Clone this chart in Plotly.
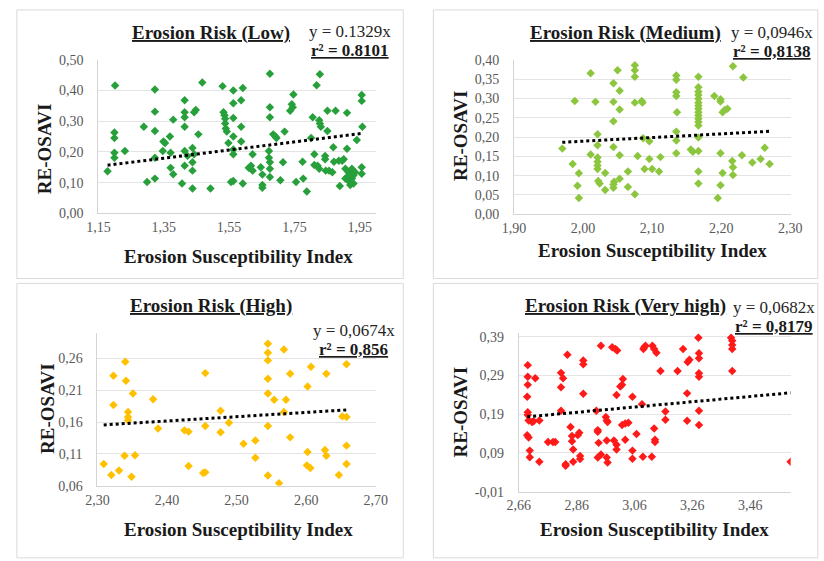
import plotly.graph_objects as go

W, H = 824, 561

# ---------------- data ----------------
low_x = [1.178, 1.201, 1.199, 1.199, 1.199, 1.199, 1.231, 1.289, 1.299, 1.323, 1.323, 1.323, 1.323, 1.323,
         1.347, 1.354, 1.349, 1.369, 1.379, 1.371, 1.371, 1.379, 1.406, 1.414, 1.414, 1.414, 1.414, 1.414,
         1.414, 1.423, 1.438, 1.443, 1.448, 1.438, 1.443, 1.438, 1.438, 1.456, 1.468, 1.493, 1.530, 1.533,
         1.536, 1.538, 1.538, 1.540, 1.543, 1.548, 1.563, 1.563, 1.563, 1.563, 1.563, 1.563, 1.556, 1.563,
         1.587, 1.587, 1.587, 1.592, 1.592, 1.622, 1.617, 1.622, 1.610, 1.647, 1.652, 1.652, 1.652, 1.675,
         1.675, 1.675, 1.672, 1.672, 1.675, 1.675, 1.675, 1.685, 1.692, 1.695, 1.707, 1.715, 1.720, 1.737,
         1.742, 1.747, 1.745, 1.755, 1.775, 1.777, 1.788, 1.811, 1.801, 1.818, 1.828, 1.806, 1.826, 1.828,
         1.831, 1.811, 1.821, 1.826, 1.844, 1.844, 1.851, 1.851, 1.846, 1.856, 1.869, 1.866, 1.871, 1.876,
         1.886, 1.896, 1.901, 1.889, 1.911, 1.911, 1.906, 1.911, 1.916, 1.921, 1.916, 1.926, 1.931, 1.936,
         1.921, 1.926, 1.906, 1.931, 1.941, 1.956, 1.956, 1.958, 1.956, 1.956]
low_y = [0.137, 0.416, 0.263, 0.245, 0.197, 0.181, 0.203, 0.282, 0.102, 0.403, 0.331, 0.268, 0.181, 0.113,
         0.203, 0.229, 0.234, 0.250, 0.305, 0.197, 0.148, 0.127, 0.097, 0.368, 0.329, 0.313, 0.282, 0.203,
         0.155, 0.187, 0.081, 0.329, 0.336, 0.213, 0.192, 0.166, 0.139, 0.257, 0.426, 0.081, 0.414, 0.329,
         0.319, 0.308, 0.292, 0.276, 0.266, 0.229, 0.400, 0.358, 0.310, 0.250, 0.208, 0.192, 0.102, 0.105,
         0.368, 0.282, 0.234, 0.408, 0.097, 0.192, 0.155, 0.139, 0.148, 0.150, 0.126, 0.092, 0.083, 0.454,
         0.345, 0.313, 0.203, 0.181, 0.166, 0.145, 0.118, 0.257, 0.250, 0.245, 0.108, 0.166, 0.266, 0.334,
         0.355, 0.387, 0.345, 0.102, 0.168, 0.113, 0.071, 0.192, 0.245, 0.417, 0.453, 0.313, 0.303, 0.292,
         0.282, 0.157, 0.155, 0.145, 0.187, 0.176, 0.334, 0.268, 0.139, 0.139, 0.215, 0.134, 0.168, 0.334,
         0.171, 0.171, 0.176, 0.089, 0.327, 0.210, 0.145, 0.118, 0.105, 0.129, 0.134, 0.113, 0.097, 0.134,
         0.092, 0.145, 0.113, 0.124, 0.239, 0.385, 0.366, 0.282, 0.150, 0.129]

med_x = [1.970, 1.985, 1.988, 1.994, 1.992, 1.994, 2.011, 2.011, 2.018, 2.021, 2.021, 2.021, 2.021, 2.021,
         2.021, 2.022, 2.024, 2.032, 2.032, 2.044, 2.044, 2.044, 2.044, 2.045, 2.044, 2.044, 2.050, 2.053,
         2.053, 2.053, 2.053, 2.065, 2.065, 2.075, 2.075, 2.075, 2.075, 2.079, 2.075, 2.085, 2.086, 2.087,
         2.096, 2.096, 2.089, 2.100, 2.110, 2.112, 2.135, 2.135, 2.135, 2.135, 2.136, 2.135, 2.135, 2.135,
         2.156, 2.159, 2.167, 2.167, 2.167, 2.167, 2.167, 2.167, 2.167, 2.167, 2.167, 2.167, 2.167, 2.167,
         2.167, 2.167, 2.167, 2.167, 2.167, 2.190, 2.199, 2.199, 2.202, 2.205, 2.209, 2.199, 2.202, 2.199,
         2.195, 2.217, 2.216, 2.217, 2.217, 2.230, 2.232, 2.245, 2.257, 2.263, 2.270]
med_y = [0.170, 0.130, 0.293, 0.106, 0.074, 0.042, 0.365, 0.155, 0.291, 0.207, 0.179, 0.147, 0.136, 0.126,
         0.117, 0.086, 0.080, 0.063, 0.107, 0.339, 0.291, 0.241, 0.174, 0.084, 0.069, 0.077, 0.373, 0.320,
         0.271, 0.153, 0.092, 0.111, 0.071, 0.386, 0.373, 0.356, 0.289, 0.151, 0.052, 0.293, 0.289, 0.197,
         0.189, 0.143, 0.117, 0.117, 0.111, 0.148, 0.359, 0.348, 0.316, 0.306, 0.264, 0.214, 0.191, 0.158,
         0.168, 0.162, 0.356, 0.329, 0.317, 0.309, 0.299, 0.289, 0.281, 0.273, 0.264, 0.256, 0.247, 0.239,
         0.230, 0.199, 0.164, 0.111, 0.080, 0.306, 0.298, 0.292, 0.264, 0.270, 0.273, 0.158, 0.107, 0.075,
         0.042, 0.383, 0.138, 0.122, 0.102, 0.153, 0.354, 0.134, 0.143, 0.172, 0.130]

high_x = [2.309, 2.320, 2.323, 2.323, 2.331, 2.339, 2.340, 2.341, 2.344, 2.344, 2.344, 2.349, 2.351, 2.354,
          2.380, 2.387, 2.425, 2.431, 2.431, 2.452, 2.455, 2.455, 2.455, 2.477, 2.477, 2.489, 2.510, 2.527,
          2.527, 2.545, 2.545, 2.545, 2.545, 2.545, 2.545, 2.545, 2.554, 2.561, 2.568, 2.568, 2.571, 2.577,
          2.577, 2.602, 2.602, 2.601, 2.606, 2.607, 2.629, 2.627, 2.629, 2.647, 2.652, 2.658, 2.658, 2.658,
          2.658]
high_y = [0.094, 0.077, 0.233, 0.187, 0.084, 0.107, 0.255, 0.225, 0.176, 0.168, 0.163, 0.074, 0.205, 0.108,
          0.196, 0.150, 0.147, 0.145, 0.091, 0.080, 0.081, 0.237, 0.154, 0.178, 0.144, 0.159, 0.126, 0.131,
          0.104, 0.283, 0.269, 0.257, 0.228, 0.205, 0.154, 0.076, 0.195, 0.064, 0.274, 0.176, 0.195, 0.236,
          0.136, 0.216, 0.113, 0.092, 0.088, 0.247, 0.236, 0.116, 0.107, 0.077, 0.169, 0.168, 0.251, 0.123,
          0.094]

vhigh_x = [2.691, 2.691, 2.691, 2.689, 2.691, 2.691, 2.694, 2.689, 2.694, 2.698, 2.698, 2.706, 2.717, 2.711,
           2.731, 2.731, 2.761, 2.778, 2.786, 2.806, 2.813, 2.806, 2.806, 2.822, 2.822, 2.828, 2.839, 2.844,
           2.844, 2.848, 2.848, 2.864, 2.869, 2.872, 2.872, 2.883, 2.883, 2.883, 2.928, 2.933, 2.933, 2.936,
           2.933, 2.944, 2.944, 2.961, 2.964, 2.967, 2.964, 2.964, 2.967, 2.983, 2.994, 3.000, 2.989, 2.998,
           2.998, 2.998, 3.011, 3.017, 3.020, 3.017, 3.028, 3.039, 3.028, 3.053, 3.053, 3.053, 3.067, 3.086,
           3.091, 3.098, 3.094, 3.089, 3.122, 3.128, 3.136, 3.120, 3.128, 3.131, 3.131, 3.150, 3.167, 3.167,
           3.209, 3.228, 3.242, 3.242, 3.244, 3.250, 3.281, 3.283, 3.283, 3.283, 3.283, 3.283, 3.283, 3.394,
           3.398, 3.398, 3.398, 3.398, 3.600]
vhigh_y = [0.317, 0.287, 0.266, 0.235, 0.195, 0.188, 0.174, 0.136, 0.130, 0.096, 0.079, 0.170, 0.283, 0.172,
           0.174, 0.067, 0.118, 0.118, 0.118, 0.297, 0.283, 0.260, 0.199, 0.061, 0.057, 0.344, 0.157, 0.134,
           0.120, 0.099, 0.067, 0.136, 0.142, 0.082, 0.074, 0.329, 0.319, 0.243, 0.199, 0.149, 0.145, 0.116,
           0.078, 0.367, 0.086, 0.183, 0.174, 0.170, 0.122, 0.078, 0.065, 0.363, 0.359, 0.355, 0.122, 0.111,
           0.099, 0.240, 0.262, 0.266, 0.281, 0.162, 0.166, 0.168, 0.124, 0.235, 0.096, 0.075, 0.139, 0.216,
           0.359, 0.367, 0.363, 0.080, 0.367, 0.359, 0.349, 0.080, 0.153, 0.124, 0.118, 0.302, 0.197, 0.176,
           0.302, 0.359, 0.244, 0.173, 0.325, 0.331, 0.388, 0.348, 0.335, 0.296, 0.287, 0.199, 0.162, 0.388,
           0.380, 0.369, 0.359, 0.302, 0.067]

titles = ["Erosion Risk (Low)", "Erosion Risk (Medium)", "Erosion Risk (High)", "Erosion Risk (Very high)"]
slopes = [0.1329, 0.0946, 0.0674, 0.0682]
eq_texts = ["y = 0.1329x", "y = 0,0946x", "y = 0,0674x", "y = 0,0682x"]
r2_texts = ["r² = 0.8101", "r² = 0,8138", "r² = 0,856", "r² = 0,8179"]

low_xticks = [1.15, 1.35, 1.55, 1.75, 1.95]
low_xlabels = ["1,15", "1,35", "1,55", "1,75", "1,95"]
low_yticks = [0.0, 0.1, 0.2, 0.3, 0.4, 0.5]
low_ylabels = ["0,00", "0,10", "0,20", "0,30", "0,40", "0,50"]
med_xticks = [1.9, 2.0, 2.1, 2.2, 2.3]
med_xlabels = ["1,90", "2,00", "2,10", "2,20", "2,30"]
med_yticks = [0.0, 0.05, 0.1, 0.15, 0.2, 0.25, 0.3, 0.35, 0.4]
med_ylabels = ["0,00", "0,05", "0,10", "0,15", "0,20", "0,25", "0,30", "0,35", "0,40"]
high_xticks = [2.3, 2.4, 2.5, 2.6, 2.7]
high_xlabels = ["2,30", "2,40", "2,50", "2,60", "2,70"]
high_yticks = [0.06, 0.11, 0.16, 0.21, 0.26]
high_ylabels = ["0,06", "0,11", "0,16", "0,21", "0,26"]
vhigh_xticks = [2.66, 2.86, 3.06, 3.26, 3.46]
vhigh_xlabels = ["2,66", "2,86", "3,06", "3,26", "3,46"]
vhigh_yticks = [-0.01, 0.09, 0.19, 0.29, 0.39]
vhigh_ylabels = ["-0,01", "0,09", "0,19", "0,29", "0,39"]

# ---------------- styles / layout geometry ----------------
SERIF = "Liberation Serif, Times New Roman, serif"
colors = ["#27a03c", "#8cc63e", "#ffc000", "#ff1a1a"]

panels = [
    dict(x=low_x, y=low_y, xt=low_xticks, xl=low_xlabels, yt=low_yticks, yl=low_ylabels,
         xr=[1.15, 2.0], yr=[0, 0.5005], px=(89, 375), py=(54, 212)),
    dict(x=med_x, y=med_y, xt=med_xticks, xl=med_xlabels, yt=med_yticks, yl=med_ylabels,
         xr=[1.9, 2.3005], yr=[0, 0.4005], px=(517, 802), py=(54, 213)),
    dict(x=high_x, y=high_y, xt=high_xticks, xl=high_xlabels, yt=high_yticks, yl=high_ylabels,
         xr=[2.3, 2.7005], yr=[0.0598, 0.30], px=(88, 375), py=(335, 492)),
    dict(x=vhigh_x, y=vhigh_y, xt=vhigh_xticks, xl=vhigh_xlabels, yt=vhigh_yticks, yl=vhigh_ylabels,
         xr=[2.66, 3.60], yr=[-0.0102, 0.40], px=(522, 802), py=(335, 498)),
]

# annotation positions (pixels): title, eq, r2, ytitle, xtitle
ann_pos = [
    dict(t=(205, 27), eq=(348, 25), r2=(348, 45), yt=(33, 146), xt=(233, 256)),
    dict(t=(632, 27), eq=(783, 26), r2=(783, 46), yt=(462, 133), xt=(660, 250)),
    dict(t=(205, 307), eq=(352, 332), r2=(352, 352), yt=(37, 413), xt=(233, 537)),
    dict(t=(632, 307), eq=(785, 309), r2=(785, 328), yt=(462, 417), xt=(662, 537)),
]


def fx(p):
    return p / W


def fy(p):
    return 1 - p / H


fig = go.Figure()
layout = dict(width=W, height=H, margin=dict(l=0, r=0, t=0, b=0), paper_bgcolor="white",
              plot_bgcolor="white", showlegend=False)
annotations = []
shapes = []

# panel frames
for (x0, x1, y0, y1) in [(5, 403, 3, 279), (434, 830, 3, 279), (5, 403, 284, 566), (434, 830, 284, 566)]:
    shapes.append(dict(type="rect", xref="paper", yref="paper", x0=fx(x0), x1=fx(x1), y0=fy(y1), y1=fy(y0),
                       line=dict(color="#dadada", width=1), layer="below"))

for i, p in enumerate(panels):
    n = "" if i == 0 else str(i + 1)
    xa, ya = "x" + n, "y" + n
    fig.add_trace(go.Scatter(x=p["x"], y=p["y"], mode="markers", xaxis=xa, yaxis=ya,
                             marker=dict(symbol="diamond", size=6.5, color=colors[i], line=dict(width=0))))
    xmin, xmax = min(p["x"]), max(p["x"])
    fig.add_trace(go.Scatter(x=[xmin, xmax], y=[slopes[i] * xmin, slopes[i] * xmax], mode="lines",
                             xaxis=xa, yaxis=ya, line=dict(color="black", width=3, dash="dot")))
    layout["xaxis" + n] = dict(domain=[fx(p["px"][0]), fx(p["px"][1])], range=p["xr"], anchor=ya,
                               tickvals=p["xt"], ticktext=p["xl"], showgrid=False, zeroline=False,
                               showline=True, linecolor="#d4d4d4", linewidth=1, ticks="",
                               ticklabelstandoff=1,
                               tickfont=dict(family=SERIF, size=14, color="#595959"))
    layout["yaxis" + n] = dict(domain=[fy(p["py"][1]), fy(p["py"][0])], range=p["yr"], anchor=xa,
                               tickvals=p["yt"], ticktext=p["yl"], showgrid=True, gridcolor="#e4e4e4",
                               gridwidth=1, zeroline=False, showline=True, linecolor="#d4d4d4",
                               linewidth=1, ticks="", ticklabelstandoff=11,
                               tickfont=dict(family=SERIF, size=14, color="#595959"))
    a = ann_pos[i]
    common = dict(xref="paper", yref="paper", showarrow=False, xanchor="center", yanchor="middle")
    annotations.append(dict(x=fx(a["t"][0]), y=fy(a["t"][1]), text="<b><u>" + titles[i] + "</u></b>",
                            font=dict(family=SERIF, size=19, color="#1a1a1a"), **common))
    annotations.append(dict(x=fx(a["eq"][0]), y=fy(a["eq"][1]), text=eq_texts[i],
                            font=dict(family=SERIF, size=17, color="#262626"), **common))
    annotations.append(dict(x=fx(a["r2"][0]), y=fy(a["r2"][1]), text="<b><u>" + r2_texts[i] + "</u></b>",
                            font=dict(family=SERIF, size=17, color="#1a1a1a"), **common))
    annotations.append(dict(x=fx(a["yt"][0]), y=fy(a["yt"][1]), text="<b>RE-OSAVI</b>", textangle=-90,
                            font=dict(family=SERIF, size=19, color="#1a1a1a"), **common))
    annotations.append(dict(x=fx(a["xt"][0]), y=fy(a["xt"][1]), text="<b>Erosion Susceptibility Index</b>",
                            font=dict(family=SERIF, size=19, color="#1a1a1a"), **common))

layout["annotations"] = annotations
layout["shapes"] = shapes
fig.update_layout(**layout)
fig.write_html("out.html")
